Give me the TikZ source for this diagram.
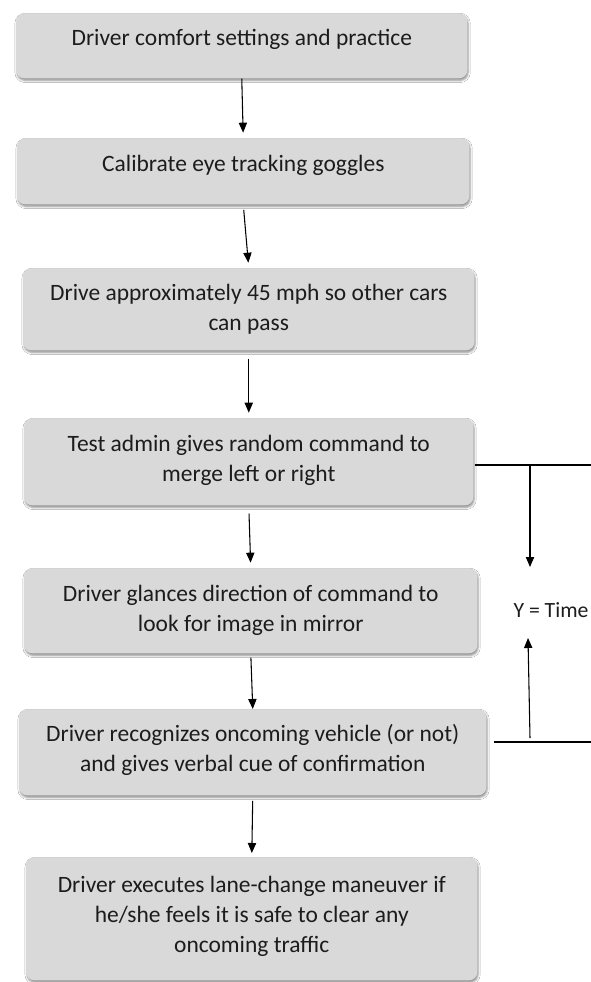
\documentclass[tikz,border=0pt]{standalone}
\usepackage{fontspec}
\setmainfont{Carlito}
\usetikzlibrary{arrows.meta,shadows.blur,calc}
\definecolor{boxfill}{RGB}{217,217,217}
\definecolor{inkgray}{RGB}{28,28,28}
\begin{document}
\begin{tikzpicture}[x=0.75pt,y=-0.75pt,
  stepbox/.style={rectangle, rounded corners=8*0.75pt, fill=boxfill,
    blur shadow={shadow xshift=0.6pt, shadow yshift=-1.6pt, shadow blur radius=1.6pt, shadow opacity=45},
    inner sep=0pt, anchor=north west},
  boxtext/.style={align=center, text=inkgray, font=\fontsize{17.6}{22.5}\selectfont, inner sep=0pt},
  sidetext/.style={text=inkgray, font=\fontsize{16.3}{20}\selectfont, inner sep=0pt},
  flow/.style={-{Triangle[length=7.5pt,width=6.2pt]}, line width=0.8pt, black},
  guide/.style={line width=0.8pt, black}
]
\useasboundingbox (0,0) rectangle (591,982);
\fill[white] (0,0) rectangle (591,982);

% process boxes: top-left corner, width and height in pixels
\node[stepbox, minimum width=451*0.75pt, minimum height=65*0.75pt] (b1) at (16,13) {};
\node[stepbox, minimum width=452*0.75pt, minimum height=66*0.75pt] (b2) at (17,138) {};
\node[stepbox, minimum width=451*0.75pt, minimum height=82*0.75pt] (b3) at (23,268) {};
\node[stepbox, minimum width=449*0.75pt, minimum height=87*0.75pt] (b4) at (24,418) {};
\node[stepbox, minimum width=453*0.75pt, minimum height=85*0.75pt] (b5) at (24,568) {};
\node[stepbox, minimum width=467*0.75pt, minimum height=86*0.75pt] (b6) at (19,709) {};
\node[stepbox, minimum width=451*0.75pt, minimum height=123*0.75pt] (b7) at (26,857) {};

% box labels
\node[boxtext] (t1) at ([yshift=4.5pt]b1.center) {Driver comfort settings and practice};
\node[boxtext] (t2) at ([yshift=4.5pt]b2.center) {Calibrate eye tracking goggles};
\node[boxtext] (t3) at (b3.center) {Drive approximately 45 mph so other cars\\can pass};
\node[boxtext] (t4) at ([yshift=1pt]b4.center) {Test admin gives random command to\\merge left or right};
\node[boxtext] (t5) at (b5.center) {Driver glances direction of command to\\look for image in mirror};
\node[boxtext] (t6) at ([yshift=1.5pt]b6.center) {Driver recognizes oncoming vehicle (or not)\\and gives verbal cue of confirmation};
\node[boxtext] (t7) at ([yshift=2pt]b7.center) {Driver executes lane-change maneuver if\\he/she feels it is safe to clear any\\oncoming traffic};

% flow arrows between steps
\draw[flow, shorten <=0pt, shorten >=4pt] (b1.south) -- (b2.north);
\draw[flow, shorten <=4pt, shorten >=4pt] (b2.south) -- (b3.north);
\draw[flow, shorten <=6pt, shorten >=4pt] (b3.south) -- (b4.north);
\draw[flow, shorten <=6pt, shorten >=4pt] (b4.south) -- (b5.north);
\draw[flow, shorten <=3pt, shorten >=0pt] (b5.south) -- (b6.north);
\draw[flow, shorten <=4pt, shorten >=3pt] (b6.south) -- (b7.north);

% time axis on the right
\coordinate (u1) at (475,465);
\coordinate (u2) at (591,465);
\coordinate (u3) at (530,465);
\coordinate (u4) at (530,567);
\coordinate (l1) at (494,742);
\coordinate (l2) at (591,742);
\coordinate (l3) at (530,738);
\coordinate (l4) at (528,638);
\draw[guide] (u1) -- (u2);
\draw[guide] (l1) -- (l2);
\draw[flow] (u3) -- (u4);
\draw[flow] (l3) -- (l4);
\node[sidetext] (ylab) at (551,610) {Y = Time};
\end{tikzpicture}
\end{document}
